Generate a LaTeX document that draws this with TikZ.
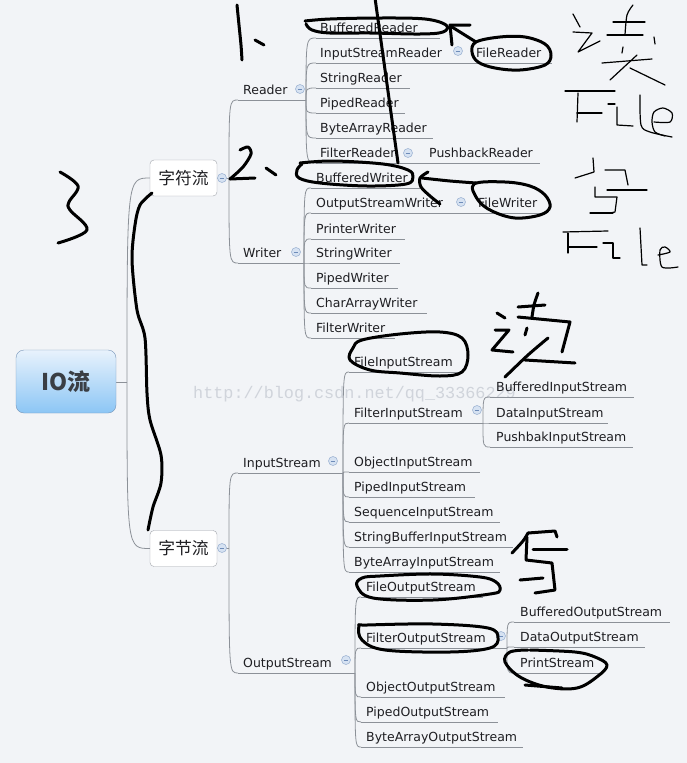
\documentclass[tikz,border=0pt]{standalone}
\usepackage{fontspec}
\setmainfont{DejaVu Sans}
\newfontfamily\cjk{Noto Sans CJK SC}
\newfontfamily\wmfont{Liberation Mono}
\definecolor{bgc}{RGB}{242,244,247}
\definecolor{linec}{RGB}{140,145,152}
\definecolor{textc}{RGB}{30,30,34}
\definecolor{rootTop}{RGB}{232,242,252}
\definecolor{rootBot}{RGB}{140,198,245}
\definecolor{rootBorder}{RGB}{120,150,185}
\definecolor{boxBorder}{RGB}{160,164,170}
\definecolor{collFill}{RGB}{214,226,242}
\definecolor{collDraw}{RGB}{160,182,212}
\definecolor{collMinus}{RGB}{110,140,185}
\definecolor{wmc}{RGB}{208,212,219}
\tikzset{
  conn/.style={draw=linec, line width=0.8pt},
  uline/.style={draw=linec, line width=0.8pt},
  leaf/.style={anchor=base west, inner sep=0pt, text=textc, font=\fontsize{12.5}{14}\selectfont},
  catbox/.style={draw=boxBorder, fill=white, rounded corners=4pt, minimum width=67pt, minimum height=36pt, inner sep=0pt, text=textc, font=\cjk\fontsize{16.8}{18}\selectfont},
  rootbox/.style={draw=rootBorder, top color=rootTop, bottom color=rootBot, rounded corners=8pt, minimum width=100pt, minimum height=63pt, inner sep=0pt, text={rgb,255:red,58;green,62;blue,68}, font=\cjk\bfseries\fontsize{23}{26}\selectfont},
  collc/.style={circle, draw=collDraw, fill=collFill, line width=0.6pt, minimum size=9pt, inner sep=0pt},
  collm/.style={draw=collMinus, line width=0.8pt},
  wm/.style={inner sep=0pt, text=wmc, font=\wmfont\fontsize{16.8}{18}\selectfont},
  hand/.style={draw=black, line width=3pt, line cap=round, line join=round},
  thinhand/.style={draw=black, line width=1.2pt, line cap=round, line join=round}
}
\newcommand\leaf[6]{%
  \coordinate (#1-s) at (#4,#3);
  \coordinate (#1-e) at (#5,#3);
  \draw[uline] (#1-s) -- (#1-e);
  \node[leaf] (#1) at (#2,#3-6) {#6};
}
\newcommand\conn[2]{\draw[conn] (#1) .. controls (#1 |- #2) .. (#2);}
\newcommand\coll[3]{\node[collc] (#1) at (#2,#3) {}; \draw[collm] (#2-2.3,#3) -- (#2+2.3,#3);}
\begin{document}
\begin{tikzpicture}[x=1pt,y=-1pt]
\fill[bgc] (0,0) rectangle (687,763);
\useasboundingbox (0,0) rectangle (687,763);

% watermark
\node[wm, anchor=base west] (wm) at (193,398) {http://blog.csdn.net/qq\_33366229};

% root and category boxes
\coordinate (J0) at (127,382);
\coordinate (J1) at (229,178);
\coordinate (J2) at (229,548);
\draw[conn] (66,382) -- (J0);
\draw[conn] (183,178) -- (J1);
\draw[conn] (183,548) -- (J2);

% level 1
\leaf{R}{243}{100}{238}{306}{Reader}
\leaf{W}{243}{263}{238}{304}{Writer}
\leaf{IS}{243}{473}{238}{343}{InputStream}
\leaf{OS}{243}{673}{238}{355}{OutputStream}

% Reader children
\leaf{rbr}{320}{38}{316}{440}{BufferedReader}
\leaf{risr}{320}{63}{316}{470}{InputStreamReader}
\leaf{rfr}{476}{63}{470}{552}{FileReader}
\leaf{rsr}{320}{88}{316}{410}{StringReader}
\leaf{rpr}{320}{113}{316}{405}{PipedReader}
\leaf{rbar}{320}{138}{316}{433}{ByteArrayReader}
\leaf{rflr}{320}{163}{316}{420}{FilterReader}
\leaf{rpbr}{429}{163}{420}{540}{PushbackReader}

% Writer children
\leaf{wbw}{316}{188}{311}{420}{BufferedWriter}
\leaf{wosw}{316}{213}{311}{466}{OutputStreamWriter}
\leaf{wfw}{478}{213}{466}{547}{FileWriter}
\leaf{wpw}{316}{239}{311}{405}{PrinterWriter}
\leaf{wsw}{316}{263}{311}{400}{StringWriter}
\leaf{wpiw}{316}{288}{311}{398}{PipedWriter}
\leaf{wcaw}{316}{313}{311}{427}{CharArrayWriter}
\leaf{wflw}{316}{338}{311}{395}{FilterWriter}

% InputStream children
\leaf{ifis}{354}{372}{349}{460}{FileInputStream}
\leaf{iflis}{354}{423}{349}{483}{FilterInputStream}
\leaf{ibis}{496}{397}{490}{634}{BufferedInputStream}
\leaf{idis}{496}{423}{490}{608}{DataInputStream}
\leaf{ipbis}{496}{447}{490}{633}{PushbakInputStream}
\leaf{iois}{354}{472}{349}{480}{ObjectInputStream}
\leaf{ipis}{354}{497}{349}{475}{PipedInputStream}
\leaf{isis}{354}{522}{349}{500}{SequenceInputStream}
\leaf{isbis}{354}{547}{349}{513}{StringBufferInputStream}
\leaf{ibais}{354}{572}{349}{500}{ByteArrayInputStream}

% OutputStream children
\leaf{ofos}{366}{597}{361}{483}{FileOutputStream}
\leaf{oflos}{366}{648}{361}{507}{FilterOutputStream}
\leaf{obos}{520}{622}{514}{670}{BufferedOutputStream}
\leaf{odos}{520}{647}{514}{645}{DataOutputStream}
\leaf{ops}{520}{673}{514}{600}{PrintStream}
\leaf{ooos}{366}{697}{361}{505}{ObjectOutputStream}
\leaf{opos}{366}{722}{361}{498}{PipedOutputStream}
\leaf{obaos}{366}{747}{361}{523}{ByteArrayOutputStream}

% boxes
\node[rootbox] (root) at (66,381.5) {IO流};
\node[catbox] (zfl) at (183.5,178) {字符流};
\node[catbox] (zjl) at (183.5,548.5) {字节流};

% connectors
\conn{J0}{zfl.west}
\conn{J0}{zjl.west}
\conn{J1}{R-s}
\conn{J1}{W-s}
\conn{J2}{IS-s}
\conn{J2}{OS-s}
\foreach \c in {rbr,risr,rsr,rpr,rbar,rflr}{\conn{R-e}{\c-s}}
\foreach \c in {wbw,wosw,wpw,wsw,wpiw,wcaw,wflw}{\conn{W-e}{\c-s}}
\foreach \c in {ifis,iflis,iois,ipis,isis,isbis,ibais}{\conn{IS-e}{\c-s}}
\foreach \c in {ibis,idis,ipbis}{\conn{iflis-e}{\c-s}}
\foreach \c in {ofos,oflos,ooos,opos,obaos}{\conn{OS-e}{\c-s}}
\foreach \c in {obos,odos,ops}{\conn{oflos-e}{\c-s}}

% collapse markers
\coll{c1}{222}{178}
\coll{c2}{222}{548}
\coll{c3}{300}{89}
\coll{c4}{296}{252}
\coll{c5}{458}{51}
\coll{c6}{408}{153}
\coll{c7}{461}{202}
\coll{c8}{333}{461}
\coll{c9}{346}{660}
\coll{c10}{477}{410}
\coll{c11}{501}{636}

% ---------- handwritten annotations ----------
% 1、
\draw[hand] plot[smooth] coordinates {(237,5) (239,25) (241,45) (242,60)};
\draw[hand] (255,40) -- (264,45);
% 2、
\draw[hand] plot[smooth, tension=0.5] coordinates {(240,150) (248,147) (251,154) (243,167) (230,179)};
\draw[hand] (230,179) -- (255,178);
\draw[hand] (266,168) -- (276,175);
% 3
\draw[hand] plot[smooth, tension=0.6] coordinates {(60,172) (78,186) (69,202) (70,210) (87,230) (58,243)};
% long curve
\draw[hand] plot[smooth] coordinates {(152,193) (140,205) (135,225) (132,260) (137,310) (145,338) (147,393) (150,420) (161,455) (161,483) (153,507) (148,530)};
% diagonal line
\draw[hand] (375,-2) -- (398,163);
% BufferedReader loop
\draw[hand] plot[smooth, tension=0.6] coordinates {(305,21) (330,19) (380,18) (425,19) (446,25) (443,32) (420,34) (370,33) (330,33) (312,30) (306,24)};
% bracket and link to FileReader
\draw[hand] (470,25) -- (450,25) -- (452,45);
\draw[hand] (452,27) -- (476,42);
% FileReader loop
\draw[hand] plot[smooth cycle, tension=0.6] coordinates {(476,42) (500,37) (525,37) (545,44) (551,55) (545,65) (520,70) (495,68) (478,62) (472,52)};
% BufferedWriter loop
\draw[hand] plot[smooth, tension=0.6] coordinates {(300,163) (333,161) (383,164) (408,170) (413,177) (406,184) (367,186) (320,183) (299,178) (297,170) (302,164)};
% hook to FileWriter
\draw[hand] plot[smooth] coordinates {(428,172) (420,178) (421,187) (430,196) (440,204)};
\draw[hand] plot[smooth] coordinates {(422,178) (450,181) (476,183)};
% FileWriter loop
\draw[hand] plot[smooth cycle, tension=0.6] coordinates {(474,184) (505,182) (530,186) (545,195) (550,207) (540,215) (515,218) (492,211) (478,200)};
% FileInputStream loop
\draw[hand] plot[smooth cycle, tension=0.6] coordinates {(350,360) (353,348) (362,340) (400,334) (440,332) (462,338) (468,355) (462,372) (440,376) (400,373) (370,370)};
% FileOutputStream loop
\draw[hand] plot[smooth cycle, tension=0.6] coordinates {(357,586) (362,578) (380,576) (433,574) (480,577) (496,582) (500,590) (490,594) (433,600) (373,598)};
% FilterOutputStream loop
\draw[hand] plot[smooth cycle, tension=0.6] coordinates {(359,626) (362,640) (385,650) (450,652) (490,648) (498,638) (488,628) (433,624) (367,625)};
% PrintStream loop
\draw[hand] plot[smooth, tension=0.6] coordinates {(530,650) (575,652) (595,657) (607,665) (598,676) (577,688) (547,687) (520,677) (505,662) (510,652) (528,650)};
\draw[hand] (525,685) -- (562,688);
% 读 (lower)
\draw[hand] (497,313) -- (505,318);
\draw[hand] (495,330) -- (509,330) -- (492,350) -- (513,352);
\draw[hand] plot[smooth] coordinates {(538,293) (534,305) (532,317)};
\draw[hand] (518,307) -- (545,305);
\draw[hand] (518,317) -- (570,322) -- (562,352);
\draw[hand] (527,328) -- (525,335);
\draw[hand] plot[smooth] coordinates {(548,338) (528,355) (505,377)};
\draw[hand] (525,360) -- (575,363);
% 写 (lower)
\draw[hand] plot[smooth] coordinates {(528,533) (523,541) (512,553)};
\draw[hand] (528,533) -- (555,531) -- (557,537);
\draw[hand] (527,537) -- (526,560) -- (552,563) -- (555,590) -- (535,593);
\draw[hand] (533,549) -- (567,549);
\draw[hand] (520,580) -- (543,578);
% right column: 读 File 写 File
\draw[thinhand] (573,14) -- (580,27);
\draw[thinhand] (573,32) -- (592,33) -- (578,52) -- (600,41);
\draw[thinhand] plot[smooth] coordinates {(633,5) (627,15) (625,35)};
\draw[thinhand] (613,22) -- (645,22);
\draw[thinhand] (607,35) -- (643,35);
\draw[thinhand] (654,37) -- (655,44);
\draw[thinhand] (623,47) -- (622,53);
\draw[thinhand] (602,63) -- (652,59);
\draw[thinhand] (637,55) -- (610,80);
\draw[thinhand] (630,68) -- (665,85);
\draw[thinhand] (565,91) -- (615,91);
\draw[thinhand] (578,93) -- (577,122);
\draw[thinhand] (577,113) -- (602,113);
\draw[thinhand] (608,104) -- (615,104);
\draw[thinhand] (617,107) -- (617,125) -- (633,126);
\draw[thinhand] plot[smooth] coordinates {(640,95) (641,125) (650,132) (672,137)};
\draw[thinhand] plot[smooth] coordinates {(654,122) (670,122) (672,113) (663,108) (654,112) (652,122) (655,132) (665,136)};
\draw[thinhand] (593,158) -- (594,172) -- (575,178);
\draw[thinhand] (605,170) -- (625,170) -- (628,185);
\draw[thinhand] (595,187) -- (595,197) -- (617,197) -- (615,212) -- (610,213);
\draw[thinhand] (607,190) -- (647,190);
\draw[thinhand] (590,213) -- (613,213);
\draw[thinhand] (563,232) -- (608,231);
\draw[thinhand] (568,233) -- (568,253);
\draw[thinhand] (568,247) -- (597,247);
\draw[thinhand] (603,243) -- (613,243) -- (613,258) -- (620,258);
\draw[thinhand] (640,228) -- (642,265) -- (647,265);
\draw[thinhand] plot[smooth] coordinates {(658,255) (670,252) (665,247) (660,250) (662,267) (678,267)};
\end{tikzpicture}
\end{document}
